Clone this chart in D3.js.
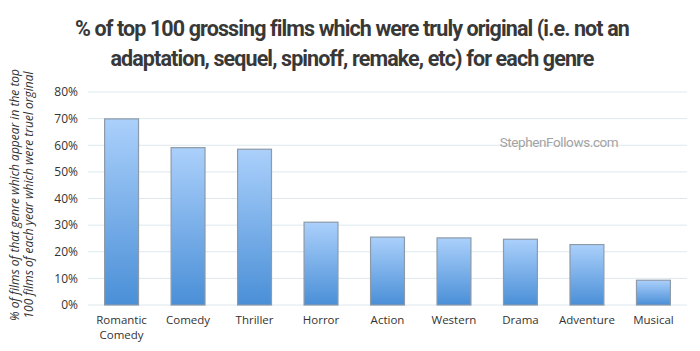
<!DOCTYPE html>
<html>
<head>
<meta charset="utf-8">
<script src="https://cdn.jsdelivr.net/npm/d3@7"></script>
<style>
  body { margin: 0; background: #fff; }
  svg { display: block; }
</style>
</head>
<body>
<div id="chart"></div>
<script>
// % of top 100 grossing films which were truly original, by genre

const genres = ['Romantic Comedy', 'Comedy', 'Thriller', 'Horror', 'Action', 'Western', 'Drama', 'Adventure', 'Musical'];
const originalPct = [69.9, 59.1, 58.5, 31.1, 25.5, 25.2, 24.7, 22.7, 9.3];
const yTicks = [0, 10, 20, 30, 40, 50, 60, 70, 80];
const titleLines = [
    '% of top 100 grossing films which were truly original (i.e. not an',
    'adaptation, sequel, spinoff, remake, etc) for each genre'
];
const yTitleLines = [
    '% of films of that genre which appear in the top',
    '100 films of each year which were truel orginal'
];

const data = genres.map((g, i) => ({ genre: g, value: originalPct[i] }));

const width = 700;
const height = 351;
const margin = { top: 92, right: 13, bottom: 46, left: 88 };
const innerW = width - margin.left - margin.right;
const innerH = height - margin.top - margin.bottom;

const svg = d3.select('#chart').append('svg')
    .attr('width', width)
    .attr('height', height);

// bar gradient
const grad = svg.append('defs').append('linearGradient')
    .attr('id', 'bar-gradient')
    .attr('x1', '0%').attr('x2', '0%')
    .attr('y1', '0%').attr('y2', '100%');
grad.append('stop').attr('offset', '0%').attr('stop-color', '#abd0fb');
grad.append('stop').attr('offset', '100%').attr('stop-color', '#4a8fd7');

// title
svg.append('g').selectAll('text')
    .data(titleLines)
    .enter()
    .append('text')
    .attr('x', 352)
    .attr('y', (d, i) => 36 + i * 30)
    .attr('text-anchor', 'middle')
    .style('font-family', 'Roboto, "Open Sans", sans-serif')
    .style('font-size', '21.5px')
    .style('font-weight', '700')
    .style('letter-spacing', '-0.9px')
    .style('fill', '#383838')
    .text(d => d);

const g = svg.append('g')
    .attr('transform', `translate(${margin.left},${margin.top})`);

const x = d3.scaleBand()
    .domain(genres)
    .range([0, innerW])
    .paddingInner(0.49)
    .paddingOuter(0.25);

const y = d3.scaleLinear()
    .domain([0, 80])
    .range([innerH, 0]);

// gridlines
g.append('g')
    .selectAll('line')
    .data(yTicks)
    .enter()
    .append('line')
    .attr('x1', 0)
    .attr('x2', innerW)
    .attr('y1', d => y(d))
    .attr('y2', d => y(d))
    .attr('stroke', '#dde8ee')
    .attr('stroke-width', 1);

// y axis labels
const yAxis = d3.axisLeft(y)
    .tickValues(yTicks)
    .tickSize(0)
    .tickPadding(10)
    .tickFormat(d => d + '%');

g.append('g')
    .call(yAxis)
    .call(s => s.select('.domain').remove())
    .selectAll('text')
    .style('font-family', '"Open Sans", sans-serif')
    .style('font-size', '12px')
    .style('fill', '#333');

// watermark
g.append('text')
    .attr('x', 471)
    .attr('y', y(60) + 2)
    .attr('text-anchor', 'middle')
    .style('font-family', 'Roboto, "Open Sans", sans-serif')
    .style('font-size', '13.5px')
    .style('letter-spacing', '-0.4px')
    .style('fill', '#a3a3a3')
    .text('StephenFollows.com');

// bars
g.selectAll('.bar')
    .data(data)
    .enter()
    .append('rect')
    .attr('class', 'bar')
    .attr('x', d => x(d.genre))
    .attr('y', d => y(d.value))
    .attr('width', x.bandwidth())
    .attr('height', d => innerH - y(d.value))
    .attr('fill', 'url(#bar-gradient)')
    .attr('stroke', '#8d9aa8')
    .attr('stroke-width', 1.2);

// x axis labels
const xLabels = g.append('g')
    .attr('transform', `translate(0,${innerH})`)
    .selectAll('text')
    .data(genres)
    .enter()
    .append('text')
    .attr('x', d => x(d) + x.bandwidth() / 2)
    .attr('y', 19)
    .attr('text-anchor', 'middle')
    .style('font-family', '"Open Sans", sans-serif')
    .style('font-size', '11.5px')
    .style('fill', '#333');

xLabels.each(function(d) {
    const words = d.split(' ');
    const t = d3.select(this);
    words.forEach((w, i) => {
        t.append('tspan')
            .attr('x', x(d) + x.bandwidth() / 2)
            .attr('dy', i === 0 ? 0 : 15)
            .text(w);
    });
});

// y axis title
svg.append('g')
    .attr('transform', `translate(0,195) rotate(-90)`)
    .selectAll('text')
    .data(yTitleLines)
    .enter()
    .append('text')
    .attr('x', 0)
    .attr('y', (d, i) => 19 + i * 14)
    .attr('text-anchor', 'middle')
    .style('font-family', '"Open Sans", sans-serif')
    .style('font-size', '12px')
    .style('font-style', 'italic')
    .style('fill', '#333')
    .text(d => d);
</script>
</body>
</html>
